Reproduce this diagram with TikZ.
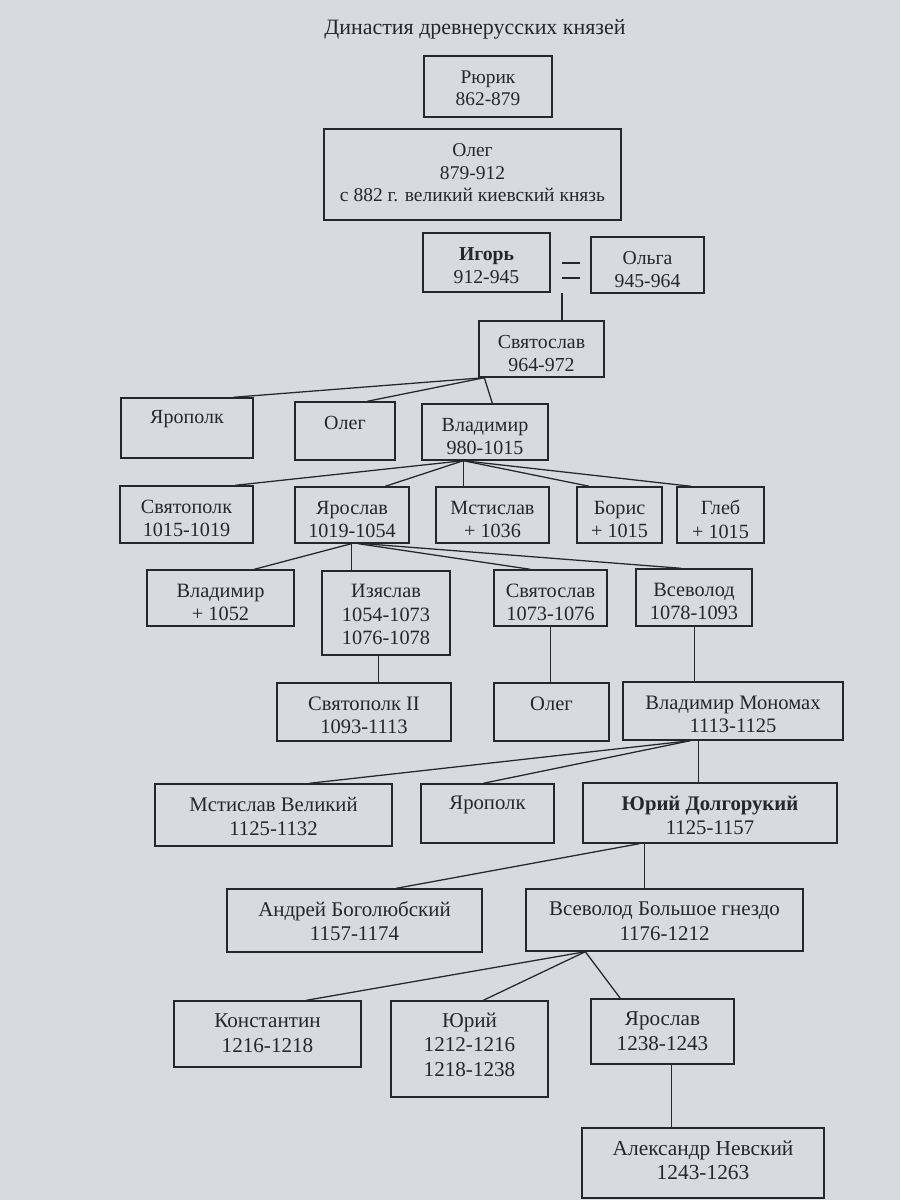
\documentclass[tikz,border=0pt]{standalone}
\usepackage{fontspec}
\setmainfont{Liberation Serif}
\usetikzlibrary{calc}
\definecolor{paper}{RGB}{216,218,224}
\definecolor{ink}{RGB}{38,38,44}
\newcommand\bx[7]{%
  \pgfmathsetmacro\fsz{13.7+1.6*#3/1200}%
  \pgfmathsetmacro\bsk{\fsz*1.16}%
  \node[box, minimum width={(#4-#2)*0.025cm}, minimum height={(#5-#3)*0.025cm}] (#1) at ({(#2+#4)/2},{(#3+#5)/2}) {};
  \node[txt, font=\fontsize{\fsz pt}{\bsk pt}\selectfont] (#1-t) at ($(#1.north)+(0,{10+11.5*#6})$) {#7};
}
\begin{document}
\begin{tikzpicture}[x=0.025cm,y=-0.025cm,
  box/.style={draw=ink, line width=1pt, rectangle, inner sep=0pt},
  txt/.style={text=ink, align=center, inner sep=0pt},
  link/.style={draw=ink, line width=0.9pt}]
\fill[paper] (0,0) rectangle (900,1200);
\useasboundingbox (0,0) rectangle (900,1200);

\node[txt, font=\fontsize{15.6}{18}\selectfont] (title) at (475,29) {Династия древнерусских князей};

\bx{rur}{424}{56}{552}{117}{2}{Рюрик\\862-879}
\bx{oleg1}{324}{129}{621}{220}{3}{Олег\\879-912\\с 882 г. великий киевский князь}
\bx{igor}{423}{233}{550}{292}{2}{\textbf{Игорь}\\912-945}
\bx{olga}{591}{237}{704}{293}{2}{Ольга\\945-964}
\bx{svt}{479}{321}{604}{377}{2}{Святослав\\964-972}

\bx{yrp1}{121}{398}{253}{458}{1}{Ярополк}
\bx{oleg2}{295}{402}{395}{460}{1}{Олег}
\bx{vlad1}{422}{404}{548}{460}{2}{Владимир\\980-1015}

\bx{svp1}{120}{486}{253}{543}{2}{Святополк\\1015-1019}
\bx{yar1}{295}{487}{409}{543}{2}{Ярослав\\1019-1054}
\bx{mst1}{436}{487}{549}{543}{2}{Мстислав\\+ 1036}
\bx{bor}{577}{487}{662}{543}{2}{Борис\\+ 1015}
\bx{gleb}{677}{487}{764}{543}{2}{Глеб\\+ 1015}

\bx{vlad2}{147}{570}{294}{626}{2}{Владимир\\+ 1052}
\bx{izy}{322}{571}{450}{655}{3}{Изяслав\\1054-1073\\1076-1078}
\bx{svt2}{494}{570}{607}{626}{2}{Святослав\\1073-1076}
\bx{vse1}{636}{569}{752}{626}{2}{Всеволод\\1078-1093}

\bx{svp2}{277}{683}{451}{741}{2}{Святополк II\\1093-1113}
\bx{oleg3}{494}{683}{609}{741}{1}{Олег}
\bx{mono}{623}{682}{843}{740}{2}{Владимир Мономах\\1113-1125}

\bx{mstv}{155}{784}{392}{846}{2}{Мстислав Великий\\1125-1132}
\bx{yrp2}{421}{784}{554}{843}{1}{Ярополк}
\bx{yud}{583}{783}{837}{843}{2}{\textbf{Юрий Долгорукий}\\1125-1157}

\bx{andr}{227}{889}{482}{952}{2}{Андрей Боголюбский\\1157-1174}
\bx{vbg}{526}{889}{803}{951}{2}{Всеволод Большое гнездо\\1176-1212}

\bx{kon}{174}{1001}{361}{1067}{2}{Константин\\1216-1218}
\bx{yur}{391}{1001}{548}{1097}{3}{Юрий\\1212-1216\\1218-1238}
\bx{yar2}{591}{999}{734}{1064}{2}{Ярослав\\1238-1243}

\bx{alex}{582}{1128}{824}{1198}{2}{Александр Невский\\1243-1263}

% marriage sign
\draw[link] (562,263) -- (580,263);
\draw[link] (562,278) -- (580,278);
\coordinate (mar) at (562,293);
\draw[link] (mar) -- (mar |- svt.north);

% Svyatoslav
\draw[link] ($(svt.south west)+(6,0)$) -- ($(yrp1.north west)+(113,0)$);
\draw[link] ($(svt.south west)+(6,0)$) -- ($(oleg2.north west)+(73,0)$);
\draw[link] ($(svt.south west)+(6,0)$) -- ($(vlad1.north west)+(71,0)$);

% Vladimir
\draw[link] ($(vlad1.south west)+(42,0)$) -- ($(svp1.north west)+(116,0)$);
\draw[link] ($(vlad1.south west)+(42,0)$) -- ($(yar1.north west)+(91,0)$);
\draw[link] ($(vlad1.south west)+(42,0)$) -- ($(mst1.north west)+(28,0)$);
\draw[link] ($(vlad1.south west)+(42,0)$) -- ($(bor.north west)+(13,0)$);
\draw[link] ($(vlad1.south west)+(42,0)$) -- ($(gleb.north west)+(15,0)$);

% Yaroslav
\draw[link] ($(yar1.south west)+(57,0)$) -- ($(vlad2.north west)+(108,0)$);
\draw[link] ($(yar1.south west)+(57,0)$) -- ($(izy.north west)+(30,0)$);
\draw[link] ($(yar1.south west)+(64,0)$) -- ($(svt2.north west)+(37,0)$);
\draw[link] ($(yar1.south west)+(70,0)$) -- ($(vse1.north west)+(46,0)$);

% next generation
\draw[link] ($(izy.south west)+(57,0)$) -- ($(svp2.north west)+(102,0)$);
\draw[link] ($(svt2.south west)+(57,0)$) -- ($(oleg3.north west)+(57,0)$);
\draw[link] ($(vse1.south west)+(59,0)$) -- ($(mono.north west)+(72,0)$);

% Monomakh
\draw[link] ($(mono.south west)+(68,0)$) -- ($(mstv.north west)+(155,0)$);
\draw[link] ($(mono.south west)+(68,0)$) -- ($(yrp2.north west)+(63,0)$);
\draw[link] ($(mono.south west)+(76,0)$) -- ($(yud.north west)+(116,0)$);

% Dolgorukiy
\draw[link] ($(yud.south west)+(57,0)$) -- ($(andr.north west)+(170,0)$);
\draw[link] ($(yud.south west)+(62,0)$) -- ($(vbg.north west)+(119,0)$);

% Big Nest
\draw[link] ($(vbg.south west)+(60,0)$) -- ($(kon.north west)+(133,0)$);
\draw[link] ($(vbg.south west)+(60,0)$) -- ($(yur.north west)+(93,0)$);
\draw[link] ($(vbg.south west)+(60,0)$) -- ($(yar2.north west)+(30,0)$);

% Yaroslav -> Alexander
\draw[link] ($(yar2.south west)+(81,0)$) -- ($(alex.north west)+(90,0)$);
\end{tikzpicture}
\end{document}
